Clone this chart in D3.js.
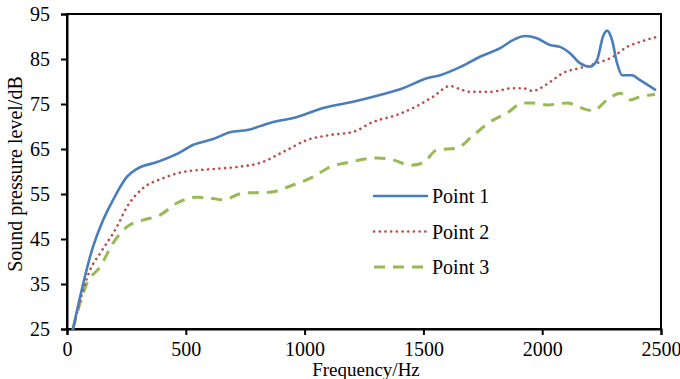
<!DOCTYPE html>
<html>
<head>
<meta charset="utf-8">
<script src="https://cdn.jsdelivr.net/npm/d3@7"></script>
<style>
  body { margin: 0; background: #fff; }
  svg text { font-family: "Times New Roman", "Liberation Serif", "DejaVu Serif", serif; fill: #000; }
</style>
</head>
<body>
<div class="plot"></div>
<script>
const width = 680;
const height = 379;
const serif = "'Times New Roman', 'Liberation Serif', 'DejaVu Serif', serif";

// readings from the picture
const freq1 = [25, 109, 152, 194, 252, 295, 379, 463, 530, 615, 686, 758, 854, 968, 1078, 1204, 1317, 1414, 1515, 1570, 1654, 1738, 1823, 1877, 1928, 1978, 2033, 2075, 2117, 2159, 2201, 2231, 2256, 2273, 2294, 2315, 2336, 2378, 2412, 2475];
const spl1 = [25, 43.2, 49.2, 53.7, 58.8, 60.6, 62.1, 63.9, 65.9, 67.2, 68.7, 69.2, 70.8, 72.1, 74.1, 75.5, 77, 78.5, 80.7, 81.4, 83.2, 85.5, 87.4, 89.2, 90.1, 89.6, 88.1, 87.7, 86.3, 84.1, 83.3, 84.8, 90, 91.3, 89.2, 84.1, 81.4, 81.4, 80.3, 78.2];

const freq2 = [25, 97, 139, 210, 252, 320, 404, 488, 602, 715, 812, 926, 1010, 1107, 1204, 1288, 1389, 1456, 1540, 1612, 1654, 1696, 1780, 1877, 1919, 1961, 1991, 2033, 2088, 2159, 2231, 2298, 2357, 2412, 2475];
const spl2 = [25, 38.1, 41.8, 47.7, 52.1, 56.3, 58.5, 59.9, 60.5, 61, 61.9, 64.8, 67, 68.1, 68.8, 71, 72.6, 74.1, 76.6, 79, 78.3, 77.7, 77.7, 78.5, 78.5, 77.9, 78.5, 79.9, 81.9, 83, 84.1, 85.5, 87.7, 88.8, 89.8];

const freq3 = [25, 84, 139, 194, 252, 320, 391, 463, 547, 602, 657, 741, 854, 951, 1036, 1107, 1191, 1305, 1372, 1444, 1498, 1557, 1641, 1709, 1780, 1852, 1919, 1961, 2020, 2104, 2189, 2214, 2273, 2328, 2370, 2412, 2475];
const spl3 = [25, 35.2, 38.8, 44.1, 47.7, 49.2, 50.3, 53, 54.3, 54.1, 53.7, 55.2, 55.4, 57, 58.8, 61, 62.1, 63, 62.6, 61.4, 61.9, 64.8, 65.2, 68, 71, 73, 75.2, 75.2, 74.8, 75.2, 73.7, 73.5, 75.9, 77.4, 75.9, 76.6, 77.1];

const seriesNames = ["Point 1", "Point 2", "Point 3"];
const xTicks = [0, 500, 1000, 1500, 2000, 2500];
const yTicks = [25, 35, 45, 55, 65, 75, 85, 95];

const styles = [
  { color: "#4A7EBB", width: 2.6, dash: null, cap: "round" },
  { color: "#BE4B48", width: 2.6, dash: "0.1,5.6", cap: "round" },
  { color: "#98B954", width: 3, dash: "11,8", cap: "butt" }
];

const margin = { left: 67, top: 14, right: 19, bottom: 50 };

const svg = d3.select(".plot")
  .append("svg")
  .attr("width", width)
  .attr("height", height);

const xScale = d3.scaleLinear()
  .domain([0, 2500])
  .range([margin.left, width - margin.right]);

const yScale = d3.scaleLinear()
  .domain([25, 95])
  .range([height - margin.bottom, margin.top]);

// frame
svg.append("rect")
  .attr("x", xScale(0))
  .attr("y", yScale(95))
  .attr("width", xScale(2500) - xScale(0))
  .attr("height", yScale(25) - yScale(95))
  .attr("fill", "none")
  .attr("stroke", "#000")
  .attr("stroke-width", 2);

const xAxis = svg.append("g")
  .attr("transform", `translate(0, ${yScale(25)})`)
  .call(d3.axisBottom(xScale).tickValues(xTicks).tickSize(6).tickPadding(7).tickFormat(d3.format("d")));

const yAxis = svg.append("g")
  .attr("transform", `translate(${xScale(0)}, 0)`)
  .call(d3.axisLeft(yScale).tickValues(yTicks).tickSize(6).tickPadding(11));

[xAxis, yAxis].forEach((ax) => {
  ax.attr("font-family", serif).attr("font-size", 20);
  ax.select(".domain").attr("stroke-width", 2);
  ax.selectAll(".tick line").attr("stroke-width", 2);
  ax.selectAll("text").attr("font-family", serif).style("font-size", "20px");
});

const line = d3.line()
  .x((d) => xScale(d[0]))
  .y((d) => yScale(d[1]))
  .curve(d3.curveMonotoneX);

const series = [
  d3.zip(freq1, spl1),
  d3.zip(freq2, spl2),
  d3.zip(freq3, spl3)
];

// draw in reverse so blue ends on top
[2, 1, 0].forEach((i) => {
  const s = styles[i];
  svg.append("path")
    .datum(series[i])
    .attr("d", line)
    .attr("fill", "none")
    .attr("stroke", s.color)
    .attr("stroke-width", s.width)
    .attr("stroke-linecap", s.cap)
    .attr("stroke-linejoin", "round")
    .attr("stroke-dasharray", s.dash);
});

// legend
const legend = svg.append("g").attr("transform", "translate(374, 196)");
seriesNames.forEach((name, i) => {
  const s = styles[i];
  const row = legend.append("g").attr("transform", `translate(0, ${i * 35.5})`);
  row.append("line")
    .attr("x1", 0).attr("x2", 53)
    .attr("y1", 0).attr("y2", 0)
    .attr("stroke", s.color)
    .attr("stroke-width", s.width)
    .attr("stroke-linecap", s.cap)
    .attr("stroke-dasharray", s.dash);
  row.append("text")
    .attr("x", 58)
    .attr("y", 7)
    .attr("font-family", serif)
    .style("font-size", "20px")
    .text(name);
});

svg.append("text")
  .attr("x", 366)
  .attr("y", 376)
  .attr("text-anchor", "middle")
  .attr("font-family", serif)
  .style("font-size", "19px")
  .text("Frequency/Hz");

svg.append("text")
  .attr("transform", "rotate(-90)")
  .attr("x", -174)
  .attr("y", 22)
  .attr("text-anchor", "middle")
  .attr("font-family", serif)
  .style("font-size", "20px")
  .text("Sound pressure level/dB");
</script>
</body>
</html>
